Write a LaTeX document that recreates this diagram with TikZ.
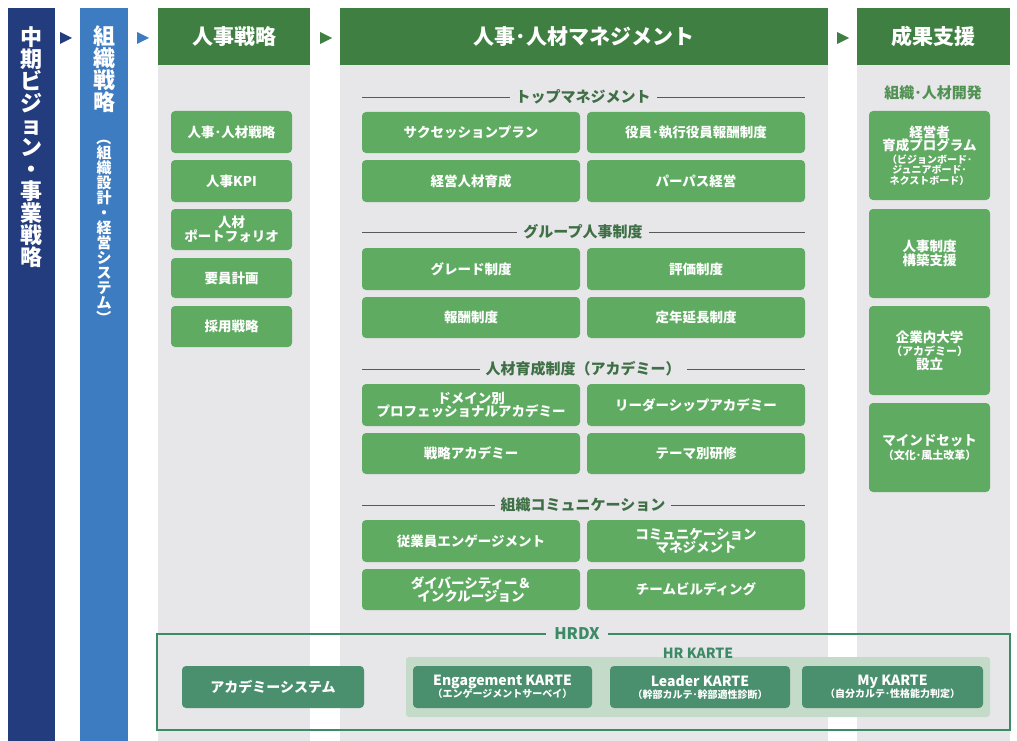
\documentclass[tikz,border=0pt]{standalone}
\usepackage{fontspec}
\setmainfont{Noto Sans CJK JP}
\usepackage{graphicx}
\definecolor{navy}{HTML}{233C7E}
\definecolor{blu}{HTML}{3E7CC2}
\definecolor{gry}{HTML}{E7E7EA}
\definecolor{hdr}{HTML}{3F7F42}
\definecolor{gbx}{HTML}{5FAB62}
\definecolor{teal}{HTML}{4A8F6E}
\definecolor{hrk}{HTML}{C5DBC9}
\definecolor{sect}{HTML}{3F6F45}
\definecolor{hrdx}{HTML}{3D8A66}
\newcommand\fs[1]{\fontsize{#1}{#1}\selectfont}
\tikzset{
  gbox/.style={fill=gbx,rounded corners=4pt,text=white,font=\bfseries\fs{13.5},align=center,inner sep=0pt},
  tbox/.style={fill=teal,rounded corners=4pt,text=white,font=\bfseries\fs{14},align=center,inner sep=0pt},
  hdrtxt/.style={text=white,font=\bfseries\fs{21}},
  secttxt/.style={fill=gry,text=sect,font=\bfseries\fs{15},inner xsep=6pt,inner ysep=1pt},
  tri/.style={fill=#1},
}
\newcommand\bx[7][gbox]{\node[#1,minimum width={(#5-#3)*1pt},minimum height={(#6-#4)*1pt}] (#2) at ({(#3+#5)/2},{(#4+#6)/2}) {#7};}
\newcommand\arr[3]{\fill[#3] (#1,#2-6) -- (#1+12,#2) -- (#1,#2+6) -- cycle;}
\newcommand\sline[3]{\draw[gray!70!black,line width=0.8pt] (362,#1) -- (805,#1); \node[secttxt] (#2) at (583,#1) {#3};}
\begin{document}
\begin{tikzpicture}[x=1pt,y=-1pt]
\useasboundingbox (0,0) rectangle (1017,741);
\fill[white] (0,0) rectangle (1017,741);
% columns
\fill[navy] (8,8) rectangle (55,741);
\fill[blu] (80,8) rectangle (128,741);
\fill[gry] (158,8) rectangle (310,741);
\fill[gry] (340,8) rectangle (828,741);
\fill[gry] (857,8) rectangle (1010,741);
\fill[hdr] (158,8) rectangle (310,65);
\fill[hdr] (340,8) rectangle (828,65);
\fill[hdr] (857,8) rectangle (1010,65);
\node[hdrtxt] (h1) at (234,37) {人事戦略};
\node[hdrtxt] (h2) at (584,37) {人事･人材マネジメント};
\node[hdrtxt] (h3) at (933,37) {成果支援};
\arr{60}{38}{navy}
\arr{137}{38}{blu}
\arr{320}{38}{hdr}
\arr{837}{38}{hdr}
% vertical texts
\node[text=white,font=\bfseries\fs{22},align=center,inner sep=0pt,anchor=north] (v1) at (31.5,26)
 {\setlength{\baselineskip}{25pt}中\\期\\ビ\\ジ\\ョ\\ン\\・\\事\\業\\戦\\略};
\node[text=white,font=\bfseries\fs{22},align=center,inner sep=0pt,anchor=north] (v2a) at (104,26)
 {\setlength{\baselineskip}{25pt}組\\織\\戦\\略};
\node[text=white,font=\bfseries\fs{15},align=center,inner sep=0pt,anchor=north] (v2b) at (104,130)
 {\setlength{\baselineskip}{16.5pt}\rotatebox[origin=c]{-90}{（}\\組\\織\\設\\計\\・\\経\\営\\シ\\ス\\テ\\ム\\\rotatebox[origin=c]{-90}{）}};
% left boxes
\bx{l1}{171}{111}{292}{153}{人事･人材戦略}
\bx{l2}{171}{160}{292}{202}{人事KPI}
\bx{l3}{171}{209}{292}{250}{人材\\ポートフォリオ}
\bx{l4}{171}{258}{292}{298}{要員計画}
\bx{l5}{171}{306}{292}{347}{採用戦略}
% middle
\sline{97}{s1}{トップマネジメント}
\bx{m1}{362}{112}{580}{153}{サクセッションプラン}
\bx{m2}{587}{112}{805}{153}{役員･執行役員報酬制度}
\bx{m3}{362}{160}{580}{202}{経営人材育成}
\bx{m4}{587}{160}{805}{202}{パーパス経営}
\sline{232}{s2}{グループ人事制度}
\bx{m5}{362}{248}{580}{290}{グレード制度}
\bx{m6}{587}{248}{805}{290}{評価制度}
\bx{m7}{362}{297}{580}{338}{報酬制度}
\bx{m8}{587}{297}{805}{338}{定年延長制度}
\sline{369}{s3}{人材育成制度（アカデミー）}
\bx{m9}{362}{384}{580}{426}{ドメイン別\\プロフェッショナルアカデミー}
\bx{m10}{587}{384}{805}{426}{リーダーシップアカデミー}
\bx{m11}{362}{433}{580}{474}{戦略アカデミー}
\bx{m12}{587}{433}{805}{474}{テーマ別研修}
\sline{505}{s4}{組織コミュニケーション}
\bx{m13}{362}{520}{580}{562}{従業員エンゲージメント}
\bx{m14}{587}{520}{805}{562}{コミュニケーション\\マネジメント}
\bx{m15}{362}{569}{580}{610}{ダイバーシティー＆\\インクルージョン}
\bx{m16}{587}{569}{805}{610}{チームビルディング}
% right
\node[text=gbx!85!black,font=\bfseries\fs{15}] (rt) at (933,93) {組織･人材開発};
\bx{r1}{869}{111}{990}{200}{経営者\\育成プログラム\\[-1pt]{\fs{10}（ビジョンボード･}\\[-3pt]{\fs{10}ジュニアボード･}\\[-3pt]{\fs{10}ネクストボード）}}
\bx{r2}{869}{209}{990}{298}{人事制度\\構築支援}
\bx{r3}{869}{306}{990}{395}{企業内大学\\{\fs{11}（アカデミー）}\\設立}
\bx{r4}{869}{403}{990}{492}{マインドセット\\{\fs{11}（文化･風土改革）}}
% HRDX
\fill[hrk,rounded corners=3pt] (406,657) rectangle (990,717);
\draw[hrdx,line width=1.2pt] (157,634) rectangle (1010,730);
\node[fill=gry,text=hrdx,font=\bfseries\fs{16},inner xsep=8pt,inner ysep=0pt] (hx) at (577,634) {HRDX};
\node[text=hrdx,font=\bfseries\fs{14},inner sep=0pt] (hk) at (698,653) {HR KARTE};
\bx[tbox]{a1}{182}{666}{364}{708}{アカデミーシステム}
\bx[tbox]{a2}{413}{666}{592}{708}{Engagement KARTE\\[-2pt]{\fs{10}（エンゲージメントサーベイ）}}
\bx[tbox]{a3}{610}{666}{790}{708}{Leader KARTE\\[-2pt]{\fs{10}（幹部カルテ･幹部適性診断）}}
\bx[tbox]{a4}{802}{666}{983}{708}{My KARTE\\[-2pt]{\fs{10}（自分カルテ･性格能力判定）}}
\end{tikzpicture}
\end{document}
